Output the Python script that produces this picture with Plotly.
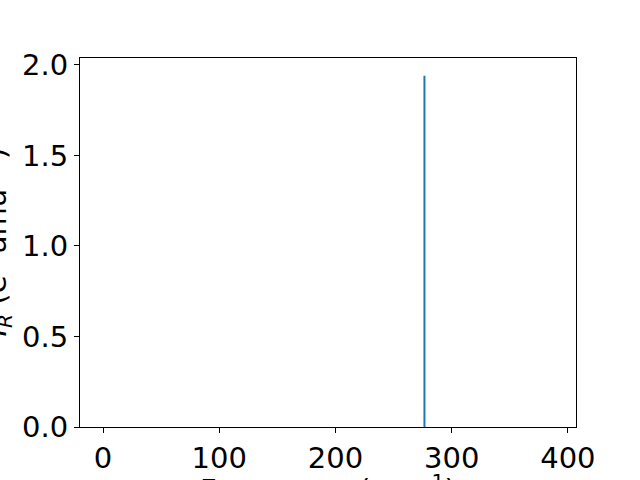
import plotly.graph_objects as go

# Data
frequencies = [276.6]
intensities = [1.94]
x_ticks = [0, 100, 200, 300, 400]
y_ticks = [0.0, 0.5, 1.0, 1.5, 2.0]

xs, ys = [], []
for f, i in zip(frequencies, intensities):
    xs += [f, f, None]
    ys += [0, i, None]

fig = go.Figure()
fig.add_trace(go.Scatter(x=xs, y=ys, mode="lines",
                         line=dict(color="#1f77b4", width=2),
                         showlegend=False, hoverinfo="skip"))

FONT = "DejaVu Sans"
FS = 29

fig.update_layout(
    width=640, height=480,
    margin=dict(l=80, r=64, t=58, b=53, pad=0, autoexpand=False),
    paper_bgcolor="white", plot_bgcolor="white",
    font=dict(family=FONT, size=FS, color="black"),
    xaxis=dict(range=[-19.8, 407], tickvals=x_ticks, ticktext=[str(v) for v in x_ticks],
               showline=True, linecolor="black", linewidth=1, mirror=True,
               ticks="outside", ticklen=5, tickwidth=1, tickcolor="black",
               showgrid=False, zeroline=False, automargin=False),
    yaxis=dict(range=[0, 2.038], tickvals=y_ticks, ticktext=[f"{v:.1f}" for v in y_ticks],
               showline=True, linecolor="black", linewidth=1, mirror=True,
               ticks="outside", ticklen=5, tickwidth=1, tickcolor="black",
               showgrid=False, zeroline=False, automargin=False),
)

fig.add_annotation(text="Frequency (cm<sup>\u22121</sup>)", xref="paper", yref="paper",
                   x=0.5, y=0, xanchor="center", yanchor="top", yshift=-40,
                   showarrow=False, font=dict(family=FONT, size=FS))
fig.add_annotation(text="<i>I</i><sub><i>R</i></sub> (e<sup>2</sup> amu<sup>\u22121</sup>)",
                   xref="paper", yref="paper", x=0, y=0.5, xanchor="center", yanchor="middle",
                   xshift=-85, textangle=-90, showarrow=False,
                   font=dict(family=FONT, size=FS))

fig.write_html("out.html", config={"displayModeBar": False},
               post_script="document.body.style.margin='0';document.body.style.overflow='hidden';")
